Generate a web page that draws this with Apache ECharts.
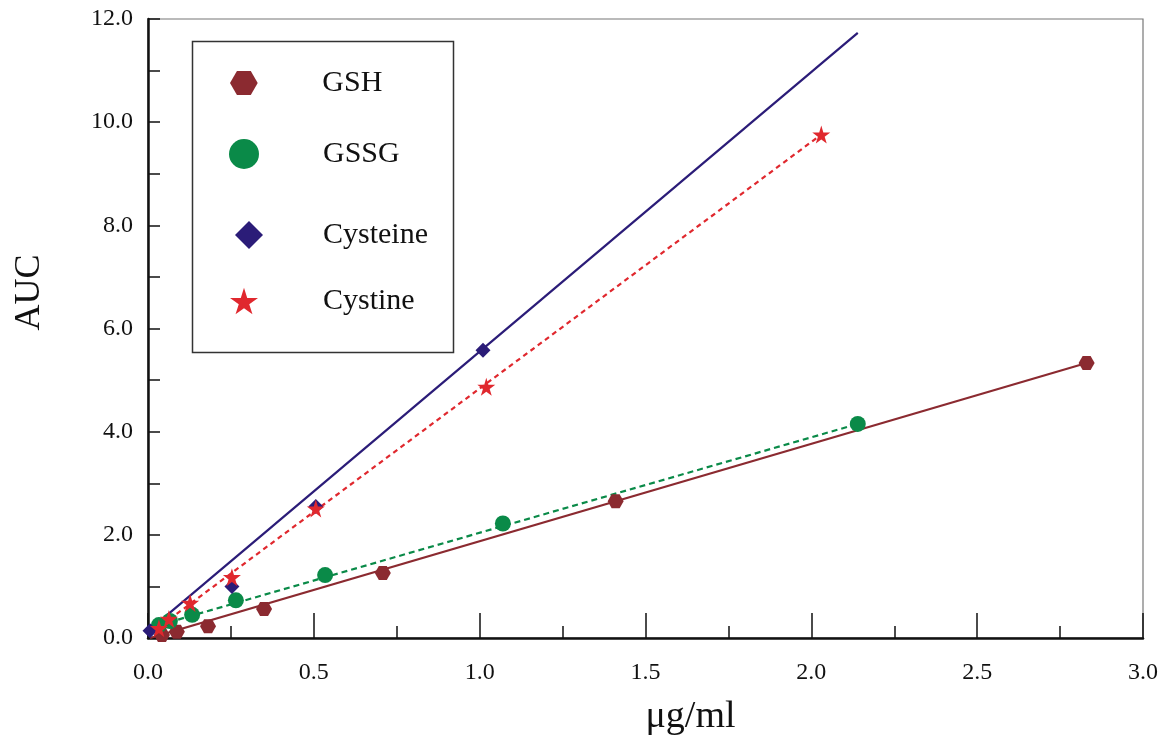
<!DOCTYPE html>
<html>
<head>
<meta charset="utf-8">
<script src="https://cdn.jsdelivr.net/npm/echarts@6/dist/echarts.min.js"></script>
<style>html,body{margin:0;padding:0;background:#fff}#c{width:1166px;height:741px}</style>
</head>
<body>
<div id="c"></div>
<script>
// ---- data ----
const seriesNames = ['GSH', 'GSSG', 'Cysteine', 'Cystine'];

const gshX = [0.042, 0.087, 0.181, 0.35, 0.708, 1.41, 2.83];
const gshY = [0.06, 0.12, 0.23, 0.56, 1.26, 2.65, 5.33];

const gssgX = [0.033, 0.066, 0.133, 0.265, 0.534, 1.07, 2.14];
const gssgY = [0.25, 0.33, 0.45, 0.73, 1.22, 2.22, 4.15];

const cysteineX = [0.006, 0.253, 0.506, 1.01];
const cysteineY = [0.14, 1.00, 2.55, 5.58];

const cystineX = [0.033, 0.063, 0.127, 0.253, 0.506, 1.02, 2.03];
const cystineY = [0.19, 0.37, 0.68, 1.18, 2.51, 4.87, 9.76];

// fitted line end points
const gshFitX = [0.006, 2.83];
const gshFitY = [0.0, 5.33];
const gssgFitX = [0.033, 2.14];
const gssgFitY = [0.25, 4.15];
const cysteineFitX = [0.0, 2.14];
const cysteineFitY = [0.135, 11.73];
const cystineFitX = [0.021, 2.03];
const cystineFitY = [0.155, 9.76];

const xTicks = [0, 3, 0.5];   // min, max, interval
const yTicks = [0, 12, 2];

const zip = (a, b) => a.map((v, i) => [v, b[i]]);

const colors = {GSH: '#8B2A30', GSSG: '#0A8A48', Cysteine: '#2B1C78', Cystine: '#E0282E'};
const hexPath = 'path://M0,4.33 L2.5,0 L7.5,0 L10,4.33 L7.5,8.66 L2.5,8.66 Z';
const starPath = 'path://M50,0 L61,35 L98,35 L68,57 L79,91 L50,70 L21,91 L32,57 L2,35 L39,35 Z';
const serif = '"Liberation Serif", "Times New Roman", serif';

function lineSeries(name, xs, ys, color, type) {
  return {
    type: 'line', name: name + ' fit', data: zip(xs, ys), showSymbol: false, symbol: 'none',
    lineStyle: {color: color, width: 2.2, type: type}, z: 2, silent: true, animation: false
  };
}
function pointSeries(name, xs, ys, symbol, size) {
  return {
    type: 'scatter', name: name, data: zip(xs, ys), symbol: symbol, symbolSize: size,
    itemStyle: {color: colors[name], opacity: 1}, z: 5, animation: false
  };
}
function legendFor(name, icon, left, top, w, h) {
  return {
    data: [{name: name, icon: icon}], left: left, top: top, itemWidth: w, itemHeight: h,
    orient: 'vertical', selectedMode: false, padding: 0,
    textStyle: {fontFamily: serif, fontSize: 30, color: '#111', padding: [0, 0, 0, 323 - (left + w + 5)]}
  };
}

const chart = echarts.init(document.getElementById('c'), null, {renderer: 'canvas'});
chart.setOption({
  backgroundColor: '#fff',
  animation: false,
  grid: {left: 148, right: 23, top: 19, bottom: 101, show: true, borderColor: '#777', borderWidth: 1.2, backgroundColor: 'transparent'},
  xAxis: {
    type: 'value', min: xTicks[0], max: xTicks[1], interval: xTicks[2],
    name: 'μg/ml', nameLocation: 'middle', nameGap: 60,
    nameTextStyle: {fontFamily: serif, fontSize: 38, color: '#111', padding: [0, 0, 0, 90]},
    axisLine: {show: true, onZero: false, lineStyle: {color: '#111', width: 2.5}},
    axisTick: {show: true, inside: true, length: 25, lineStyle: {color: '#111', width: 1.5}},
    minorTick: {show: true, splitNumber: 2, length: 12, lineStyle: {color: '#111', width: 1.5}},
    splitLine: {show: false},
    axisLabel: {fontFamily: serif, fontSize: 24, color: '#111', margin: 23, formatter: v => v.toFixed(1)}
  },
  yAxis: {
    type: 'value', min: yTicks[0], max: yTicks[1], interval: yTicks[2],
    name: 'AUC', nameLocation: 'middle', nameGap: 100, nameRotate: 90,
    nameTextStyle: {fontFamily: serif, fontSize: 36, color: '#111', padding: [0, 0, 0, 72]},
    axisLine: {show: true, onZero: false, lineStyle: {color: '#111', width: 2.5}},
    axisTick: {show: true, inside: true, length: 12, lineStyle: {color: '#111', width: 1.5}},
    minorTick: {show: true, splitNumber: 2, length: 12, lineStyle: {color: '#111', width: 1.5}},
    splitLine: {show: false},
    axisLabel: {fontFamily: serif, fontSize: 24, color: '#111', margin: 15, formatter: v => v.toFixed(1)}
  },
  legend: [
    legendFor('GSH', hexPath, 230, 68, 29, 24),
    legendFor('GSSG', 'circle', 229, 139, 30, 30),
    legendFor('Cysteine', 'diamond', 235, 220, 28, 28),
    legendFor('Cystine', starPath, 230, 286, 28, 27)
  ],
  graphic: [{
    type: 'rect', left: 190, top: 39, shape: {width: 261, height: 311},
    style: {fill: 'none', stroke: '#333', lineWidth: 1.5}, z: 0
  }],
  series: [
    lineSeries('GSH', gshFitX, gshFitY, colors.GSH, 'solid'),
    lineSeries('GSSG', gssgFitX, gssgFitY, colors.GSSG, [6, 4]),
    lineSeries('Cysteine', cysteineFitX, cysteineFitY, colors.Cysteine, 'solid'),
    lineSeries('Cystine', cystineFitX, cystineFitY, colors.Cystine, [5, 4]),
    pointSeries('GSH', gshX, gshY, hexPath, [16, 14]),
    pointSeries('GSSG', gssgX, gssgY, 'circle', 16),
    pointSeries('Cysteine', cysteineX, cysteineY, 'diamond', 15),
    pointSeries('Cystine', cystineX, cystineY, starPath, 18)
  ]
});
</script>
</body>
</html>
